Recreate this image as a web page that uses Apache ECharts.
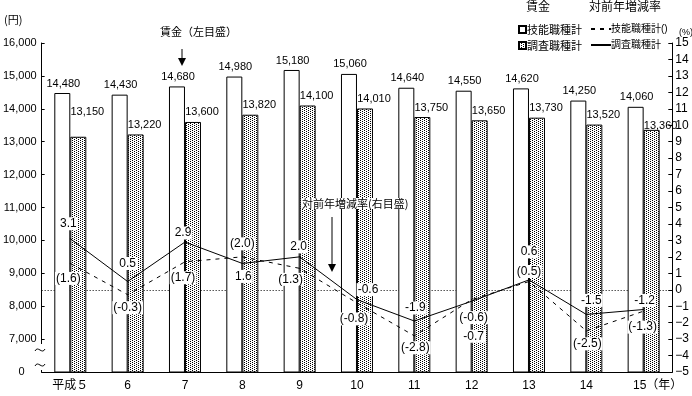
<!DOCTYPE html>
<html><head><meta charset="utf-8">
<script src="https://cdn.jsdelivr.net/npm/echarts@6/dist/echarts.min.js"></script>
<style>html,body{margin:0;padding:0;background:#fff}#c{width:692px;height:396px}</style>
</head><body><div id="c"></div>
<script>
// ---- data ----
const years = ['平成５','6','7','8','9','10','11','12','13','14','15（年）'];
const skillWage  = [14480,14430,14680,14980,15180,15060,14640,14550,14620,14250,14060];
const surveyWage = [13150,13220,13600,13820,14100,14010,13750,13650,13730,13520,13360];
const skillRate  = [1.6,-0.3,1.7,2.0,1.3,-0.8,-2.8,-0.6,0.5,-2.5,-1.3];
const surveyRate = [3.1,0.5,2.9,1.6,2.0,-0.6,-1.9,-0.7,0.6,-1.5,-1.2];
const leftTicks = {min:6000, max:16000, step:1000};
const rightTicks = {min:-5, max:15, step:1};

// ---- label placement (pixels, relative to point) ----
const surveyRateLabelOff = [[-2,-15],[0,-18],[-2,-9],[1,13],[-1,-10],[11,-10],[1,-13],[2,35],[0,-28],[5,-14],[1,-9]];
const skillRateLabelOff  = [[-2,15],[0,13],[-2,16],[0,-13],[-9,11],[-3,16],[1,12],[2,18],[0,-10],[1,13],[-1,16]];
const surveyBarLabelOff = {0:[9,-15],10:[9,6]};

const FONT = "'Liberation Sans','Noto Sans CJK JP',sans-serif";
const JFONT = "'Noto Sans CJK JP',sans-serif";

// dotted pattern
const pc = document.createElement('canvas'); pc.width = 4; pc.height = 2;
const px = pc.getContext('2d');
px.fillStyle = '#fff'; px.fillRect(0,0,4,2);
px.fillStyle = '#000'; px.fillRect(0,0,1,1); px.fillRect(2,1,1,1);

const chart = echarts.init(document.getElementById('c'), null, {renderer:'canvas'});

const rateLabel = () => ({
  show:true, position:'inside', fontSize:12, color:'#000', fontFamily:FONT,
  backgroundColor:'#fff', padding:[1,1,0,1]
});

function rateData(vals, offs, paren){
  return vals.map((v,i)=>({value:v, label:{offset:offs[i],
    formatter: paren ? '(' + v.toFixed(1) + ')' : v.toFixed(1)}}));
}

const option = {
  animation:false,
  textStyle:{fontFamily:FONT},
  grid:{left:41, right:19, top:43, bottom:24},
  legend:[
    {orient:'vertical', left:513, top:19, itemGap:5, itemWidth:7, itemHeight:7, icon:'rect',
     data:['技能職種計','調査職種計'], textStyle:{fontSize:11, fontFamily:JFONT, color:'#000', padding:[0,0,0,-4]},
     selectedMode:false},
    {orient:'vertical', left:585, top:19, itemGap:6, itemWidth:20, itemHeight:7,
     data:['技能職種計(率)','調査職種計(率)'], itemStyle:{opacity:0},
     formatter:(n)=> n==='技能職種計(率)' ? '技能職種計()' : '調査職種計',
     textStyle:{fontSize:10, fontFamily:FONT, color:'#000', padding:[0,0,0,-5]}, selectedMode:false}
  ],
  xAxis:{type:'category', data:years.map((y,i)=> i===years.length-1 ? {value:y, textStyle:{padding:[0,0,0,28]}} : y),
    axisLine:{onZero:false, lineStyle:{color:'#000'}},
    axisTick:{inside:true, length:3, lineStyle:{color:'#000'}},
    axisLabel:{color:'#000', fontSize:12, margin:8, interval:0, fontFamily:FONT}},
  yAxis:[
    {type:'value', min:leftTicks.min, max:leftTicks.max, interval:leftTicks.step,
     axisLine:{show:true, lineStyle:{color:'#000'}},
     axisTick:{show:true, inside:true, length:3, lineStyle:{color:'#000'}},
     splitLine:{show:false},
     axisLabel:{color:'#000', fontSize:11, margin:5,
       rich:{z:{fontSize:11, color:'#000', padding:[0,12,0,0]}},
       formatter:(v)=> v===leftTicks.min ? '{z|0}' : v.toLocaleString('en-US')}},
    {type:'value', min:rightTicks.min, max:rightTicks.max, interval:rightTicks.step, position:'right',
     axisLine:{show:true, lineStyle:{color:'#000'}},
     axisTick:{show:true, inside:true, length:4, lineStyle:{color:'#000'}},
     splitLine:{show:false},
     axisLabel:{color:'#000', fontSize:12, margin:3, formatter:(v)=> v<0 ? '−'+(-v) : ''+v}}
  ],
  series:[
    {name:'技能職種計', type:'bar', yAxisIndex:0, barWidth:16, barGap:'0%',
     itemStyle:{color:'#fff', borderColor:'#000', borderWidth:1},
     label:{show:true, position:'top', distance:4, fontSize:11, color:'#000', offset:[1,0],
       formatter:(p)=> p.value.toLocaleString('en-US')},
     data:skillWage},
    {name:'調査職種計', type:'bar', yAxisIndex:0, barWidth:16,
     itemStyle:{color:{image:pc, repeat:'repeat'}, borderColor:'#000', borderWidth:1},
     label:{show:true, position:'top', distance:4, fontSize:11, color:'#000', offset:[9,0],
       formatter:(p)=> p.value.toLocaleString('en-US')},
     data:surveyWage.map((v,i)=> surveyBarLabelOff[i] ? {value:v, label:{offset:surveyBarLabelOff[i]}} : v)},
    {name:'技能職種計(率)', type:'line', yAxisIndex:1, symbol:'circle', symbolSize:1,
     itemStyle:{color:'#000'}, lineStyle:{color:'#000', width:1, type:[4,5]},
     label:rateLabel(), z:5,
     data:rateData(skillRate, skillRateLabelOff, true),
     markLine:{silent:true, symbol:'none', label:{show:false}, z:1,
       lineStyle:{color:'#000', width:1, type:[1,2]}, emphasis:{disabled:true}, data:[{yAxis:0}]}},
    {name:'調査職種計(率)', type:'line', yAxisIndex:1, symbol:'circle', symbolSize:1,
     itemStyle:{color:'#000'}, lineStyle:{color:'#000', width:1, type:'solid'},
     label:rateLabel(), z:6,
     data:rateData(surveyRate, surveyRateLabelOff, false)}
  ],
  graphic:[
    {type:'text', left:4, top:14, style:{text:'(円)', font:'11px '+JFONT, fill:'#000'}},
    {type:'text', left:679, top:28, style:{text:'(%)', font:'9px '+FONT, fill:'#000'}},
    {type:'text', left:526, top:0, style:{text:'賃金', font:'12px '+JFONT, fill:'#000'}},
    {type:'text', left:589, top:0, style:{text:'対前年増減率', font:'12px '+JFONT, fill:'#000'}},
    {type:'text', left:160, top:26, style:{text:'賃金（左目盛）', font:'11px '+JFONT, fill:'#000'}},
    {type:'line', shape:{x1:182,y1:49,x2:182,y2:60}, style:{stroke:'#000', lineWidth:1}},
    {type:'polygon', shape:{points:[[178,58],[186,58],[182,66]]}, style:{fill:'#000'}},
    {type:'text', left:302, top:198, z:50, style:{text:'対前年増減率(右目盛)', font:'11px '+JFONT, fill:'#000', backgroundColor:'#fff'}},
    {type:'line', shape:{x1:332,y1:217,x2:332,y2:266}, style:{stroke:'#000', lineWidth:1}},
    {type:'polygon', shape:{points:[[328,264],[336,264],[332,272]]}, style:{fill:'#000'}},
    {type:'rect', shape:{x:38,y:344,width:6,height:26}, style:{fill:'#fff'}, z:100},
    {type:'bezierCurve', shape:{x1:35,y1:351,cpx1:38,cpy1:345,cpx2:42,cpy2:355,x2:45,y2:349}, style:{stroke:'#000', fill:null, lineWidth:1}, z:101},
    {type:'bezierCurve', shape:{x1:35,y1:366,cpx1:38,cpy1:360,cpx2:42,cpy2:370,x2:45,y2:364}, style:{stroke:'#000', fill:null, lineWidth:1}, z:101}
  ]
};
chart.setOption(option);
</script>
</body></html>
